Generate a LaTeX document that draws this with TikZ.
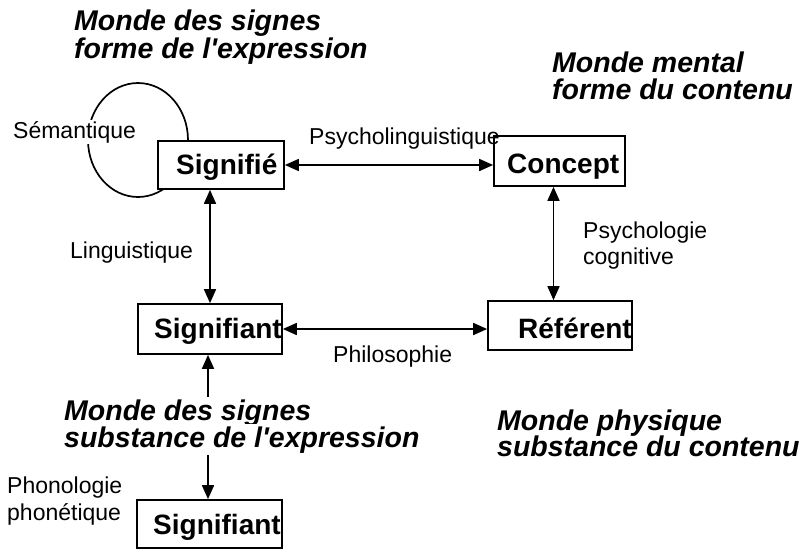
\documentclass[tikz,border=0pt]{standalone}
\usepackage{fontspec}
\setmainfont{Liberation Sans}
\usetikzlibrary{arrows.meta}
\begin{document}
\begin{tikzpicture}[x=1pt,y=-1pt,
  box/.style={draw,line width=1.7pt,fill=white,inner sep=0pt},
  boxlbl/.style={font=\fontsize{28}{28}\selectfont\bfseries,inner sep=0pt,anchor=base west},
  lbl/.style={font=\fontsize{23}{23}\selectfont,inner sep=0pt,anchor=base west},
  ttl/.style={font=\fontsize{28.5}{28}\selectfont\bfseries\itshape,inner sep=0pt,anchor=base west},
  conn/.style={line width=1.7pt,{Triangle[length=14pt,width=12pt]}-{Triangle[length=14pt,width=12pt]}}]
\useasboundingbox (0,0) rectangle (806,550);
% semantic loop
\draw[line width=1.7pt] (138,140) ellipse [x radius=50, y radius=57];
% boxes
\node[box,minimum width=126pt,minimum height=48pt] (sfe) at (221,165) {};
\node[box,minimum width=131pt,minimum height=50pt] (con) at (559.5,161) {};
\node[box,minimum width=144pt,minimum height=50pt] (sgt) at (210,329) {};
\node[box,minimum width=144pt,minimum height=49pt] (ref) at (560,325.5) {};
\node[box,minimum width=145pt,minimum height=48pt] (sgb) at (209.5,524) {};
% connectors
\draw[conn] (sfe.east) -- (sfe.east -| con.west);
\draw[conn] (sgt.north) -- (sgt.north |- sfe.south);
\draw[conn] ([xshift=-6pt]con.south) -- ([xshift=-6pt]con.south |- ref.north);
\draw[conn] (sgt.east) -- (sgt.east -| ref.west);
\draw[conn] ([xshift=-2pt]sgt.south) -- ([xshift=-2pt]sgt.south |- sgb.north);
% box labels
\node[boxlbl] (tsfe) at (176,174) {Signifié};
\node[boxlbl] (tcon) at (507,173) {Concept};
\node[boxlbl] (tsgt) at (154,338) {Signifiant};
\node[boxlbl] (tref) at (518,338) {Référent};
\node[boxlbl] (tsgb) at (153,534) {Signifiant};
% connector labels
\node[lbl,fill=white,inner sep=1pt] (lsem) at (12,138) {Sémantique};
\node[lbl] (lpsl) at (309,144) {Psycholinguistique};
\node[lbl] (lling) at (70,258) {Linguistique};
\node[lbl] (lpc1) at (583,238) {Psychologie};
\node[lbl] (lpc2) at (583,264) {cognitive};
\node[lbl] (lphi) at (333,362) {Philosophie};
\node[lbl] (lph1) at (7,493) {Phonologie};
\node[lbl] (lph2) at (7,520) {phonétique};
% titles
\node[ttl] (t1a) at (74,30) {Monde des signes};
\node[ttl] (t1b) at (74,58) {forme de l\textquotesingle expression};
\node[ttl] (t2a) at (552,72) {Monde mental};
\node[ttl] (t2b) at (552,99) {forme du contenu};
\node[ttl,fill=white,inner sep=2pt] (t3a) at (62,420) {Monde des signes};
\node[ttl,fill=white,inner sep=2pt] (t3b) at (62,447) {substance de l\textquotesingle expression};
\node[ttl] (t4a) at (497,430) {Monde physique};
\node[ttl] (t4b) at (497,456) {substance du contenu};
\end{tikzpicture}
\end{document}
